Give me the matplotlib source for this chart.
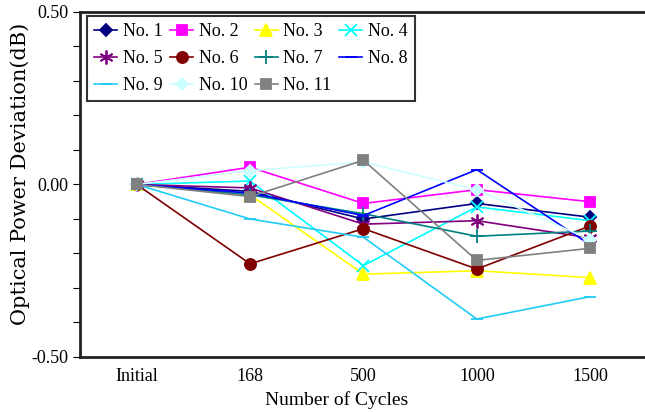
import matplotlib.pyplot as plt
import numpy as np

# 数据
cycles = ['Initial', '168', '500', '1000', '1500']
no1 = [0, -0.02, -0.10, -0.055, -0.095]
no2 = [0, 0.05, -0.055, -0.015, -0.05]
no3 = [0, -0.03, -0.26, -0.25, -0.27]
no4 = [0, 0.01, -0.235, -0.065, -0.105]
no5 = [0, -0.01, -0.115, -0.105, -0.155]
no6 = [0, -0.23, -0.128, -0.245, -0.12]
no7 = [0, -0.03, -0.085, -0.15, -0.135]
no8 = [0, -0.025, -0.09, 0.043, -0.175]
no9 = [0, -0.10, -0.153, -0.39, -0.325]
no10 = [0, 0.04, 0.065, -0.015, -0.16]
no11 = [0, -0.035, 0.07, -0.22, -0.185]

series = [
    ('No. 1', no1, '#000080', 'D', 6),
    ('No. 2', no2, '#FF00FF', 's', 7),
    ('No. 3', no3, '#FFFF00', '^', 8),
    ('No. 4', no4, '#00FFFF', 'x', 8),
    ('No. 5', no5, '#800080', (6, 2, 0), 10),
    ('No. 6', no6, '#800000', 'o', 8),
    ('No. 7', no7, '#008080', '+', 10),
    ('No. 8', no8, '#0000FF', '_', 8),
    ('No. 9', no9, '#22CCF5', '_', 8),
    ('No. 10', no10, '#CCFFFF', 'D', 6),
    ('No. 11', no11, '#808080', 's', 7),
]

plt.rcParams['font.family'] = ['Liberation Serif', 'DejaVu Serif']

fig = plt.figure(figsize=(6.45, 4.12), dpi=100)
ax = fig.add_axes([0.124, 0.1335, 0.879, 0.8375])

x = np.arange(len(cycles))
for label, vals, color, marker, ms in series:
    ax.plot(x, vals, color=color, marker=marker, markersize=ms, linewidth=1.2,
            markeredgewidth=1.3, label=label)

ax.set_xlim(-0.5, 4.5)
ax.set_ylim(-0.5, 0.5)
ax.set_xticks(x)
ax.set_xticklabels(cycles, fontsize=13)
ax.tick_params(axis='x', length=0, pad=8)
ax.set_yticks([-0.5, 0.0, 0.5])
ax.set_yticklabels(['-0.50', '0.00', '0.50'], fontsize=13)
ax.set_yticks(np.arange(-0.4, 0.45, 0.1), minor=True)
ax.tick_params(axis='y', which='both', direction='out', length=5, width=0.8, pad=3)

for side in ['left', 'bottom', 'top']:
    ax.spines[side].set_linewidth(2)
    ax.spines[side].set_color('#222222')
ax.spines['right'].set_visible(False)

ax.set_xlabel('Number of Cycles', fontsize=14, labelpad=2)
ax.xaxis.set_label_coords((337 - 80) / 567, -0.1)
ax.set_ylabel('Optical Power Deviation(dB)', fontsize=15, family='DejaVu Serif', labelpad=2)
ax.yaxis.set_label_coords(-0.088, 0.53)

# 图例按行排列
handles, labels = ax.get_legend_handles_labels()
order = [0, 4, 8, 1, 5, 9, 2, 6, 10, 3, 7]
leg = ax.legend([handles[i] for i in order], [labels[i] for i in order],
                loc='upper left', ncol=4, bbox_to_anchor=(0.012, 0.988),
                fontsize=13, frameon=True, fancybox=False, borderpad=0.4,
                handlelength=1.3, handletextpad=0.3, columnspacing=0.4,
                labelspacing=0.55, borderaxespad=0)
leg.get_frame().set_edgecolor('black')
leg.get_frame().set_linewidth(1.5)

fig.savefig('out.png', dpi=100)
